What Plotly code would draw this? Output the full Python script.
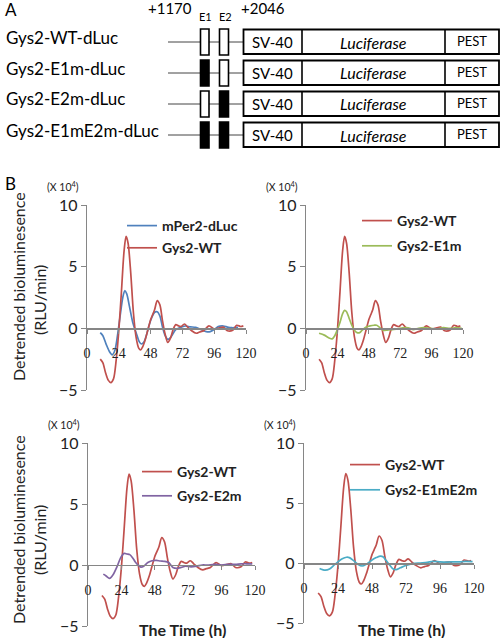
import plotly.graph_objects as go

W, H = 500, 638

# ---------------- data ----------------
constructs = ["Gys2-WT-dLuc", "Gys2-E1m-dLuc", "Gys2-E2m-dLuc", "Gys2-E1mE2m-dLuc"]
e1_mutant = [False, True, False, True]
e2_mutant = [False, False, True, True]
position_labels = ["+1170", "+2046"]
element_labels = ["E1", "E2"]
cassette_labels = ["SV-40", "Luciferase", "PEST"]

x_ticks = [0, 24, 48, 72, 96, 120]
y_ticks = [-5, 0, 5, 10]

wt_h = [10, 12, 14, 16, 18, 20, 22, 24, 26, 28, 29.5, 31, 33, 35, 37, 39, 40.5, 42, 44, 46, 48, 49.5,
        51, 53, 55, 57, 59, 61, 63, 65, 67, 69, 71, 73.5, 76, 79, 82.5, 85, 88, 92, 96, 100, 103, 106,
        110, 113, 116, 118]
wt_v = [-2.5, -2.8, -3.6, -4.2, -4.4, -4.1, -2.6, -0.2, 3.0, 6.3, 7.45, 6.9, 4.5, 1.3, -0.7, -1.6,
        -1.75, -1.5, -0.9, -0.1, 0.7, 1.1, 1.5, 2.25, 1.9, 0.6, -0.5, -1.15, -0.8, -0.1, 0.3, 0.2, 0.15,
        0.35, 0.1, -0.2, -0.4, -0.3, -0.2, 0.2, -0.05, 0.05, 0.1, -0.2, -0.15, 0.25, 0.15, 0.2]

per2_h = [10, 12, 14.5, 17, 19, 21, 23, 25, 27, 28.5, 30, 32, 34.5, 37.5, 39.5, 41, 43, 45, 47, 49, 51,
          53, 55, 57, 59, 61, 63, 67, 70, 74, 78, 82, 86, 90, 93, 96, 99, 103, 106, 109.5, 114]
per2_v = [-0.35, -0.6, -1.3, -1.9, -2.15, -1.8, -0.6, 1.0, 2.5, 3.05, 2.8, 1.8, 0.5, -0.5, -1.1, -1.27,
          -1.1, -0.5, 0.3, 0.9, 1.3, 1.35, 1.0, 0.1, -0.6, -0.9, -0.75, -0.1, 0.05, 0.19, 0.12, 0.08,
          -0.1, -0.27, -0.27, -0.1, 0.14, 0.19, 0.1, 0.05, 0.08]

e1m_h = [10, 14, 18, 20, 22, 24, 26, 28, 29.5, 31, 33, 35, 37, 39, 41, 43, 46, 49, 52, 54, 56, 59, 62,
         66, 70, 74, 78, 82, 86, 90, 95, 100, 105, 110, 115, 119]
e1m_v = [-0.4, -0.55, -0.8, -0.85, -0.6, -0.1, 0.5, 1.2, 1.45, 1.35, 0.8, 0.25, -0.15, -0.35, -0.35,
         -0.15, 0.1, 0.2, 0.25, 0.25, 0.1, -0.15, -0.15, -0.1, -0.05, 0.05, 0.05, -0.1, 0.0, 0.05, 0.0,
         -0.05, 0.05, 0.0, 0.05, 0.0]

e2m_h = [11, 13, 15.5, 18, 21, 23.5, 26, 28, 30, 32, 34, 36, 38, 40, 43, 46, 49, 52, 55, 58, 61, 64, 67,
         70, 74, 78, 82, 86, 91, 96, 101, 106, 110, 114, 118]
e2m_v = [-0.75, -0.9, -1.1, -0.8, -0.1, 0.6, 0.95, 0.9, 0.85, 0.6, 0.25, 0.0, -0.17, -0.1, 0.2, 0.35,
         0.38, 0.33, 0.3, 0.2, -0.2, -0.27, -0.2, -0.1, -0.15, -0.1, 0.0, 0.0, 0.05, 0.0, 0.05, 0.05,
         0.1, 0.1, 0.1]

e1me2m_h = [11, 13, 15, 18, 21, 24, 27, 30, 32, 35, 38, 41, 44, 48, 51, 54, 56, 58, 61, 63, 65, 68, 72,
            77, 82, 87, 91, 96, 101, 106, 110, 114, 119]
e1me2m_v = [-0.45, -0.55, -0.6, -0.5, -0.2, 0.1, 0.35, 0.48, 0.45, 0.2, -0.1, -0.25, -0.1, 0.25, 0.45,
            0.58, 0.5, 0.2, -0.25, -0.5, -0.55, -0.4, -0.2, -0.05, 0.0, 0.05, 0.14, 0.1, 0.08, 0.1,
            0.1, 0.14, 0.12]

# ---------------- styling ----------------
RED, BLUE, GREEN, PURPLE, CYAN = "#C0504D", "#4F81BD", "#9BBB59", "#8064A2", "#4BACC6"
SANS = "Lato, Liberation Sans, sans-serif"
SERIF = "Liberation Serif, DejaVu Serif, serif"
AX = "#868686"


def X(px):
    return px / W


def Y(py):
    return 1 - py / H


def note(text, px, py, size, **kw):
    d = dict(text=text, x=X(px), y=Y(py), xref="paper", yref="paper", showarrow=False,
             xanchor="center", yanchor="middle",
             font=dict(family=SANS, size=size, color=kw.pop("color", "black")))
    d.update(kw)
    return d


fig = go.Figure()
shapes, annos = [], []

# ---------------- panel A (schematic) ----------------
annos.append(note("A", 3, 10, 17, xanchor="left"))
annos.append(note(position_labels[0], 170, 8, 15))
annos.append(note(position_labels[1], 263, 8, 15))
annos.append(note(element_labels[0], 205, 16, 11))
annos.append(note(element_labels[1], 225, 16, 11))

row_pitch = 31
for i, name in enumerate(constructs):
    cy = 42 + i * row_pitch
    annos.append(note(name, 4, cy - 5, 17, xanchor="left"))
    for (a, b) in [(168, 200), (209, 219), (229, 243)]:
        shapes.append(dict(type="line", xref="paper", yref="paper", x0=X(a), x1=X(b),
                           y0=Y(cy), y1=Y(cy), line=dict(color="#444444", width=1)))
    for (a, b), mut in zip([(200.5, 209), (219.5, 228.5)], [e1_mutant[i], e2_mutant[i]]):
        shapes.append(dict(type="rect", xref="paper", yref="paper", x0=X(a), x1=X(b),
                           y0=Y(cy + 13), y1=Y(cy - 13),
                           fillcolor="black" if mut else "white",
                           line=dict(color="black", width=1.6)))
    shapes.append(dict(type="rect", xref="paper", yref="paper", x0=X(243.5), x1=X(499),
                       y0=Y(cy + 12), y1=Y(cy - 12.5), fillcolor="white",
                       line=dict(color="black", width=1.8)))
    for d in (302, 445):
        shapes.append(dict(type="line", xref="paper", yref="paper", x0=X(d), x1=X(d),
                           y0=Y(cy + 12), y1=Y(cy - 12.5), line=dict(color="black", width=1.6)))
    annos.append(note(cassette_labels[0], 272, cy, 15))
    annos.append(note("<i>" + cassette_labels[1] + "</i>", 373, cy, 16))
    annos.append(note(cassette_labels[2], 472, cy - 1, 13))

annos.append(note("B", 3, 184, 17, xanchor="left"))

# ---------------- panel B (four charts) ----------------
panels = [
    dict(xd=(87, 246), yd=(205, 390), legend=(122, 210), gap=1, tx=None, ylab=(287, 300),
         series=[("mPer2-dLuc", per2_h, per2_v, BLUE), ("Gys2-WT", wt_h, wt_v, RED)]),
    dict(xd=(306, 463), yd=(205, 390), legend=(357, 205), gap=4, tx=None, ylab=None,
         series=[("Gys2-WT", wt_h, wt_v, RED), ("Gys2-E1m", e1m_h, e1m_v, GREEN)]),
    dict(xd=(88, 255), yd=(443, 626), legend=(137, 456), gap=3, tx=182, ylab=(530, 540),
         series=[("Gys2-WT", wt_h, wt_v, RED), ("Gys2-E2m", e2m_h, e2m_v, PURPLE)]),
    dict(xd=(304, 474), yd=(443, 623), legend=(345, 449), gap=4, tx=401, ylab=None,
         series=[("Gys2-WT", wt_h, wt_v, RED), ("Gys2-E1mE2m", e1me2m_h, e1me2m_v, CYAN)]),
]

layout_axes = {}
for k, p in enumerate(panels, start=1):
    sfx = "" if k == 1 else str(k)
    lg = "legend" if k == 1 else f"legend{k}"
    top, bot = p["yd"]
    zero_py = top + (bot - top) * 10 / 15
    layout_axes[f"xaxis{sfx}"] = dict(
        domain=[X(p["xd"][0]), X(p["xd"][1])], range=[0, 120], anchor="free",
        position=Y(zero_py), showline=True, linecolor=AX, linewidth=1.5 if k == 4 else 1.2,
        ticks="outside", ticklen=4, tickcolor=AX, tickvals=x_ticks, showgrid=False,
        zeroline=False, tickfont=dict(family=SERIF, size=14, color="#222222"),
        ticklabelstandoff=8, fixedrange=True, automargin=False)
    layout_axes[f"yaxis{sfx}"] = dict(
        domain=[Y(bot), Y(top)], range=[-5, 10], anchor=f"x{sfx}", showline=True,
        linecolor=AX, linewidth=1.2, ticks="outside", ticklen=5, tickcolor=AX,
        tickvals=y_ticks, showgrid=False, zeroline=False,
        tickfont=dict(family=SANS, size=16, color="#222222"), fixedrange=True, automargin=False)
    layout_axes[lg] = dict(x=X(p["legend"][0]), y=Y(p["legend"][1]), xanchor="left", yanchor="top",
                           bgcolor="rgba(0,0,0,0)", borderwidth=0, tracegroupgap=p["gap"],
                           traceorder="grouped",
                           font=dict(family=SANS, size=14, color="#222222", weight="bold"))
    for j, (name, hx, vy, col) in enumerate(p["series"]):
        fig.add_trace(go.Scatter(
            x=hx, y=vy, mode="lines", name=name, legend=lg, legendgroup=f"g{k}{j}",
            line=dict(color=col, width=1.7, shape="spline", smoothing=0.8),
            xaxis=f"x{sfx}", yaxis=f"y{sfx}", hoverinfo="skip"))

    left = p["xd"][0]
    annos.append(note("(X 10<sup>4</sup>)", left - 24, top - 19, 10.5, color="#222222"))
    if p["ylab"]:
        annos.append(note("Detrended bioluminesence", 18, p["ylab"][0], 16, color="#222222",
                          textangle=-90))
        annos.append(note("(RLU/min)", 39, p["ylab"][1], 16, color="#222222", textangle=-90))
    if p["tx"]:
        annos.append(note("<b>The Time (h)</b>", p["tx"], 629, 16, color="#222222"))

fig.update_layout(
    width=W, height=H, margin=dict(l=0, r=0, t=0, b=0, autoexpand=False),
    paper_bgcolor="white", plot_bgcolor="rgba(0,0,0,0)",
    shapes=shapes, annotations=annos, showlegend=True, **layout_axes)

fig.write_html("out.html", config={"displayModeBar": False, "staticPlot": True},
               post_script="document.body.style.margin='0';")
